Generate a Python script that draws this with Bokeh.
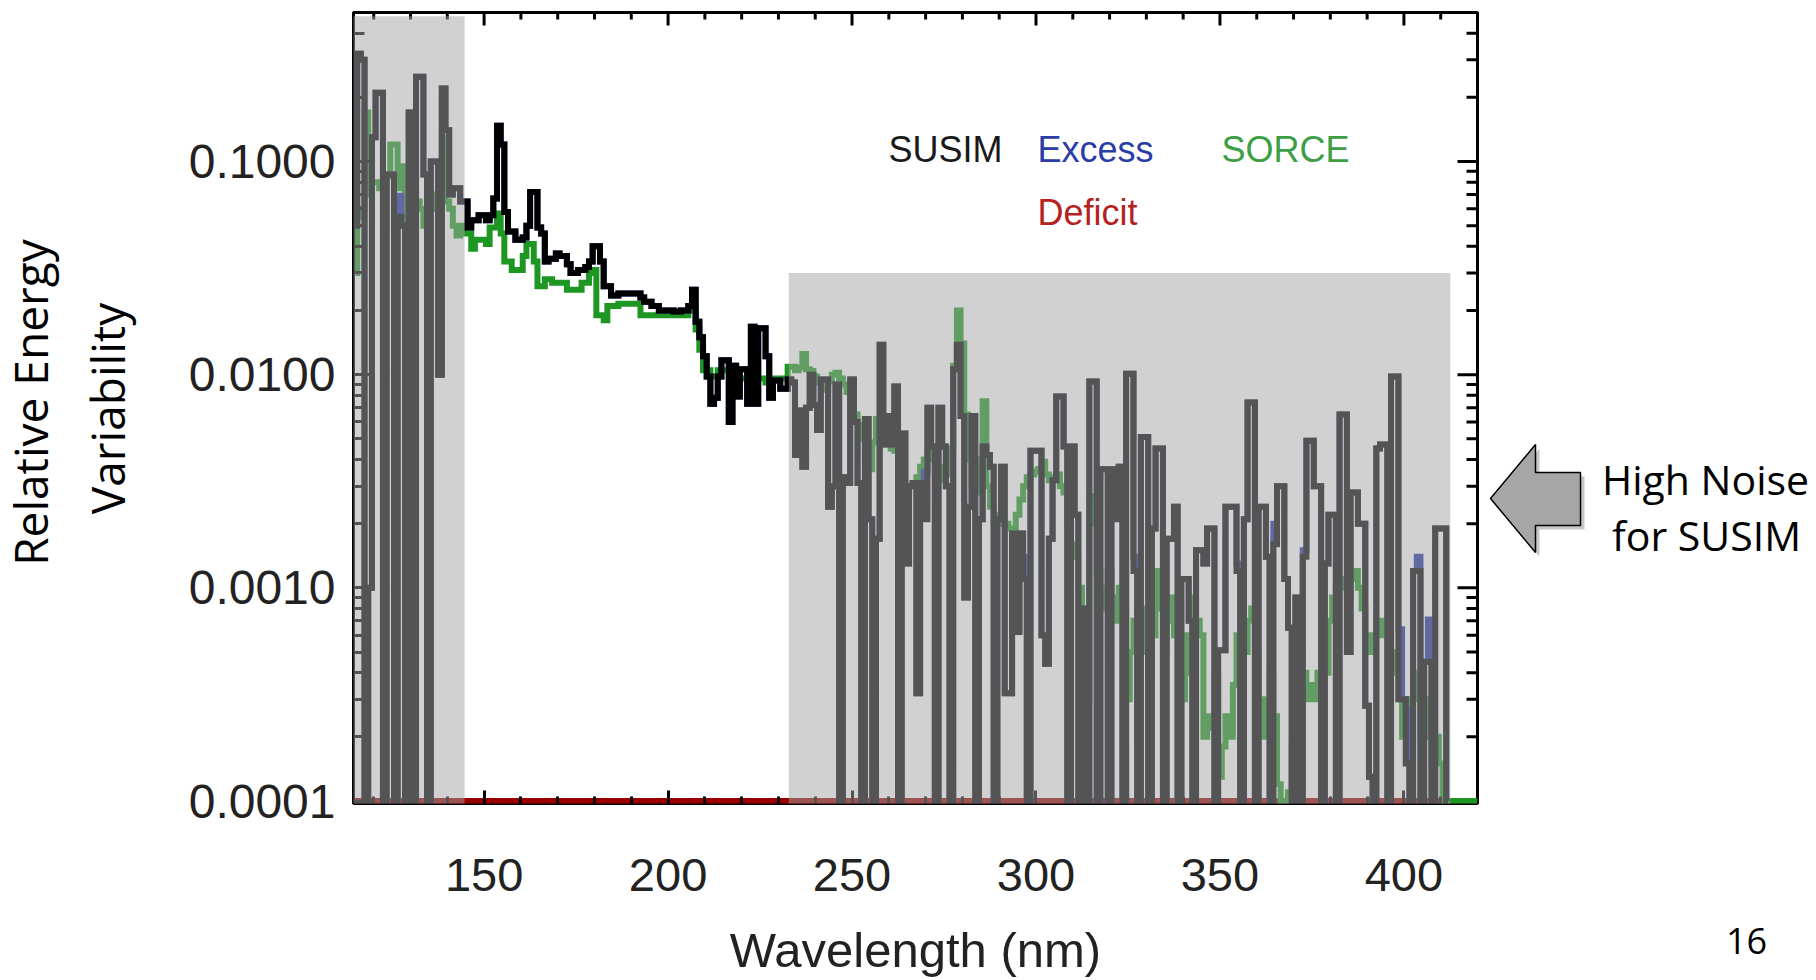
import numpy as np
from bokeh.plotting import figure
from bokeh.layouts import row, column
from bokeh.models import Range1d, FixedTicker, PrintfTickFormatter, BoxAnnotation, Label
from bokeh.core.properties import value
from bokeh.embed import file_html
from bokeh.resources import INLINE

# ---------------- data ----------------
susim_start = 115   # first wavelength bin (nm), 1 nm bins
susim = [
    0.05, 0.32, 0.30, 0.0001, 0.001, 0.13, 0.21, 0.21, 0.0001, 0.087,          # 115-124
    0.087, 0.0001, 0.055, 0.05, 0.0001, 0.17, 0.0001, 0.25, 0.25, 0.087,       # 125-134
    0.0001, 0.10, 0.10, 0.010, 0.22, 0.14, 0.07, 0.075, 0.075, 0.065,          # 135-144
    0.065, 0.049, 0.053, 0.053, 0.056, 0.056, 0.053, 0.056, 0.067, 0.147,      # 145-154
    0.120, 0.058, 0.047, 0.047, 0.043, 0.043, 0.044, 0.050, 0.072, 0.072,      # 155-164
    0.049, 0.046, 0.034, 0.035, 0.035, 0.037, 0.036, 0.036, 0.033, 0.030,      # 165-174
    0.030, 0.031, 0.031, 0.032, 0.034, 0.040, 0.040, 0.034, 0.026, 0.026,      # 175-184
    0.0235, 0.0235, 0.024, 0.024, 0.024, 0.024, 0.024, 0.024, 0.023, 0.022,    # 185-194
    0.022, 0.021, 0.021, 0.020, 0.020, 0.020, 0.020, 0.0198, 0.0198, 0.020,    # 195-204
    0.020, 0.021, 0.025, 0.0177, 0.015, 0.0122, 0.0098, 0.0073, 0.0078, 0.0098,  # 205-214
    0.0117, 0.0117, 0.0060, 0.011, 0.0079, 0.0106, 0.0106, 0.0073, 0.0168, 0.0073,  # 215-224
    0.0165, 0.0165, 0.0122, 0.0078, 0.0094, 0.0094, 0.0086, 0.0086, 0.0095, 0.0092,  # 225-234
    0.0042, 0.0068, 0.0037, 0.0070, 0.0100, 0.0072, 0.0055, 0.0095, 0.0095, 0.0024,  # 235-244
    0.0030, 0.0090, 0.0001, 0.0033, 0.0031, 0.0095, 0.0060, 0.0031, 0.0001, 0.0062,  # 245-254
    0.0021, 0.0001, 0.0017, 0.0138, 0.0047, 0.0064, 0.0047, 0.0088, 0.0001, 0.0053,  # 255-264
    0.0013, 0.0030, 0.0031, 0.00032, 0.0031, 0.0021, 0.0070, 0.0046, 0.0001, 0.0070,  # 265-274
    0.0046, 0.0030, 0.0001, 0.0106, 0.0138, 0.0064, 0.0009, 0.0024, 0.0064, 0.0001,  # 275-284
    0.0021, 0.0046, 0.0042, 0.0037, 0.0001, 0.0021, 0.0037, 0.00032, 0.00032, 0.0018,  # 285-294
    0.00062, 0.0018, 0.0011, 0.0001, 0.0044, 0.0044, 0.0044, 0.0006, 0.00044, 0.0017,  # 295-304
    0.0032, 0.0079, 0.0079, 0.0046, 0.0001, 0.0046, 0.0022, 0.0001, 0.0008, 0.0001,  # 305-314
    0.0093, 0.0093, 0.0001, 0.0036, 0.0036, 0.0001, 0.0036, 0.0021, 0.0037, 0.0001,  # 315-324
    0.0101, 0.0101, 0.0012, 0.0001, 0.0051, 0.0051, 0.0001, 0.0019, 0.0045, 0.0045,  # 325-334
    0.0001, 0.0017, 0.0017, 0.0024, 0.0001, 0.0011, 0.0011, 0.0007, 0.0001, 0.0015,  # 335-344
    0.0015, 0.0013, 0.0019, 0.0019, 0.0001, 0.00051, 0.00051, 0.0024, 0.0024, 0.0024,  # 345-354
    0.0012, 0.0001, 0.0021, 0.0074, 0.0074, 0.0001, 0.0024, 0.0024, 0.0014, 0.0001,  # 355-364
    0.0016, 0.0030, 0.0030, 0.0011, 0.00065, 0.0001, 0.0009, 0.0001, 0.0014, 0.0049,  # 365-374
    0.0049, 0.0030, 0.0030, 0.0001, 0.0013, 0.0022, 0.0022, 0.0001, 0.0065, 0.0065,  # 375-384
    0.0005, 0.0028, 0.0028, 0.0020, 0.0020, 0.00028, 0.00013, 0.0001, 0.0045, 0.0047,  # 385-394
    0.0047, 0.0001, 0.0098, 0.0098, 0.0003, 0.0003, 0.00015, 0.0001, 0.0012, 0.0012,  # 395-404
    0.0001, 0.00045, 0.00045, 0.0001, 0.0019, 0.0019, 0.0019, 0.0001,              # 405-412
]

sorce_start = 115
sorce = [
    0.03, 0.055, 0.06, 0.17, 0.07, 0.08, 0.08, 0.075, 0.08, 0.085,             # 115-124
    0.12, 0.12, 0.075, 0.095, 0.05, 0.055, 0.06, 0.065, 0.06, 0.05,            # 125-134
    0.065, 0.06, 0.07, 0.06, 0.13, 0.065, 0.06, 0.05, 0.045, 0.05,             # 135-144
    0.046, 0.046, 0.039, 0.043, 0.043, 0.043, 0.041, 0.049, 0.049, 0.057,      # 145-154
    0.046, 0.034, 0.034, 0.031, 0.031, 0.031, 0.036, 0.041, 0.041, 0.034,      # 155-164
    0.026, 0.026, 0.028, 0.028, 0.027, 0.027, 0.027, 0.027, 0.025, 0.025,      # 165-174
    0.025, 0.025, 0.027, 0.027, 0.030, 0.031, 0.019, 0.019, 0.018, 0.021,      # 175-184
    0.021, 0.021, 0.0215, 0.0215, 0.0215, 0.0215, 0.0215, 0.0215, 0.019, 0.019,  # 185-194
    0.019, 0.019, 0.019, 0.019, 0.019, 0.019, 0.019, 0.019, 0.019, 0.019,      # 195-204
    0.019, 0.020, 0.020, 0.0163, 0.0131, 0.0105, 0.0105, 0.0098, 0.0098, 0.0105,  # 205-214
    0.0105, 0.0105, 0.0105, 0.0092, 0.0092, 0.0096, 0.0096, 0.0096, 0.0096, 0.0096,  # 215-224
    0.0096, 0.0096, 0.0092, 0.0096, 0.0096, 0.0096, 0.0096, 0.0096, 0.0109, 0.0109,  # 225-234
    0.0105, 0.0108, 0.0125, 0.0106, 0.0104, 0.0098, 0.0092, 0.0090, 0.0085, 0.0093,  # 235-244
    0.0100, 0.0102, 0.0096, 0.0090, 0.0083, 0.0075, 0.0065, 0.0058, 0.0050, 0.0042,  # 245-254
    0.0036, 0.0048, 0.0062, 0.0055, 0.0060, 0.0050, 0.0045, 0.0044, 0.0036, 0.0030,  # 255-264
    0.0029, 0.0030, 0.0031, 0.0033, 0.0037, 0.0040, 0.0043, 0.0040, 0.0036, 0.0037,  # 265-274
    0.0032, 0.0034, 0.0045, 0.0110, 0.0200, 0.0140, 0.0065, 0.0040, 0.0030, 0.0028,  # 275-284
    0.0040, 0.0075, 0.0030, 0.0024, 0.0020, 0.0022, 0.0020, 0.0020, 0.0019, 0.0019,  # 285-294
    0.0022, 0.0026, 0.0030, 0.0033, 0.0034, 0.0035, 0.0036, 0.0039, 0.0034, 0.0032,  # 295-304
    0.0033, 0.0034, 0.0030, 0.0028, 0.0020, 0.0016, 0.0014, 0.0010, 0.0006, 0.0003,  # 305-314
    0.0027, 0.0020, 0.0012, 0.0008, 0.0010, 0.0012, 0.0009, 0.0007, 0.0010, 0.0008,  # 315-324
    0.0003, 0.0005, 0.0007, 0.0002, 0.0005, 0.0008, 0.0004, 0.0006, 0.0012, 0.0008,  # 325-334
    0.0005, 0.0007, 0.0009, 0.0006, 0.0001, 0.0003, 0.0006, 0.0004, 0.0009, 0.0007,  # 335-344
    0.0006, 0.0002, 0.00025, 0.00022, 0.0004, 0.00013, 0.00018, 0.00025, 0.00020, 0.00035,  # 345-354
    0.0006, 0.0006, 0.0005, 0.0007, 0.0008, 0.0005, 0.0003, 0.0002, 0.0003, 0.0004,  # 355-364
    0.00025, 0.00012, 0.0001, 0.0001, 0.00011, 0.00018, 0.0003, 0.0005, 0.0004, 0.0003,  # 365-374
    0.00035, 0.0003, 0.0004, 0.0005, 0.0004, 0.0007, 0.0009, 0.0010, 0.0011, 0.0010,  # 375-384
    0.0009, 0.0011, 0.0012, 0.0010, 0.0008, 0.0006, 0.0005, 0.0006, 0.0007, 0.0006,  # 385-394
    0.0007, 0.0007, 0.0005, 0.0004, 0.0003, 0.0002, 0.0002, 0.0003, 0.0004, 0.0003,  # 395-404
    0.0002, 0.0003, 0.0002, 0.00015, 0.0002, 0.00015, 0.0001, 0.0001, 0.0001, 0.0001,  # 405-414
    0.0001, 0.0001, 0.0001, 0.0001, 0.0001, 0.0001,                              # 415-420
]

# "Excess" bins (where it departs from SUSIM and peeks out in blue)
excess_nm = [127, 270, 297, 322, 327, 355, 365, 373, 399, 401, 404, 407]
excess_val = [0.069, 0.0035, 0.0014, 0.0024, 0.0014, 0.0013, 0.0020, 0.0015,
              0.00064, 0.00027, 0.0014, 0.00071]

# "Deficit" (sits on the floor of the plot)
deficit_nm = [114.5, 412.6]
deficit_val = [0.0001, 0.0001]

# noisy bands for SUSIM
band_x0 = [113.2, 232.8]
band_x1 = [144.7, 412.6]
band_y0 = [0.000094, 0.000094]
band_y1 = [0.48, 0.030]

x_ticks = [150, 200, 250, 300, 350, 400]
x_minor = [120, 130, 140, 160, 170, 180, 190, 210, 220, 230, 240, 260, 270, 280, 290,
           310, 320, 330, 340, 360, 370, 380, 390, 410]
y_ticks = [0.0001, 0.001, 0.01, 0.1]
y_minor = [m * d for d in (0.0001, 0.001, 0.01, 0.1) for m in (2, 3, 4, 5, 6, 7, 8, 9)]

# ---------------- geometry (page pixels) ----------------
W, H = 1816, 980
TOP_H = 915           # height of the row holding the plot; a text strip sits below
LEFT_W = 150          # left text strip
RIGHT_X = 1480        # start of right text strip
FL, FR, FT, FB = 353, 1477, 12, 803
X0, X1 = 114.5, 420.0
Y0, Y1 = 9.735e-5, 0.5


def px_x(px):
    return X0 + (px - FL) / (FR - FL) * (X1 - X0)


def px_y(py):
    l0, l1 = np.log10(Y0), np.log10(Y1)
    return 10 ** (l1 - (py - FT) / (FB - FT) * (l1 - l0))


p = figure(width=RIGHT_X - LEFT_W, height=TOP_H, y_axis_type="log",
           x_range=Range1d(X0, X1), y_range=Range1d(Y0, Y1),
           output_backend="svg", toolbar_location=None,
           min_border_left=FL - LEFT_W, min_border_right=RIGHT_X - FR,
           min_border_top=FT, min_border_bottom=TOP_H - FB, frame_align=False)
p.outline_line_color = "black"
p.outline_line_width = 3
p.background_fill_color = "white"
p.border_fill_color = "white"
p.xgrid.visible = False
p.ygrid.visible = False

TICK_COLOR = "#222222"

xa = p.xaxis[0]
xa.ticker = FixedTicker(ticks=x_ticks, minor_ticks=x_minor)
xa.axis_line_color = None
xa.major_tick_line_width = 3
xa.minor_tick_line_width = 3
xa.major_tick_in = 13
xa.major_tick_out = 0
xa.minor_tick_in = 7
xa.minor_tick_out = 0
xa.major_label_text_font = "Liberation Sans"
xa.major_label_text_font_size = "47px"
xa.major_label_text_color = TICK_COLOR
xa.major_label_standoff = 55

ya = p.yaxis[0]
ya.ticker = FixedTicker(ticks=y_ticks, minor_ticks=y_minor)
ya.formatter = PrintfTickFormatter(format="%.4f")
ya.axis_line_width = 3
ya.axis_line_color = "black"
ya.major_tick_line_width = 3
ya.minor_tick_line_width = 3
ya.major_tick_in = 20
ya.major_tick_out = 0
ya.minor_tick_in = 11
ya.minor_tick_out = 0
ya.major_label_text_font = "Liberation Sans"
ya.major_label_text_font_size = "48px"
ya.major_label_text_color = TICK_COLOR
ya.major_label_standoff = 18

# top / right frame ticks (pointing inward)
top_major_y = px_y(FT + 13)
top_minor_y = px_y(FT + 7)
p.segment(x0=x_ticks, y0=[Y1] * len(x_ticks), x1=x_ticks, y1=[top_major_y] * len(x_ticks),
          line_color="black", line_width=3)
p.segment(x0=x_minor, y0=[Y1] * len(x_minor), x1=x_minor, y1=[top_minor_y] * len(x_minor),
          line_color="black", line_width=3)
r_major_x = px_x(FR - 20)
r_minor_x = px_x(FR - 11)
p.segment(x0=[X1] * len(y_ticks), y0=y_ticks, x1=[r_major_x] * len(y_ticks), y1=y_ticks,
          line_color="black", line_width=3)
p.segment(x0=[X1] * len(y_minor), y0=y_minor, x1=[r_minor_x] * len(y_minor), y1=y_minor,
          line_color="black", line_width=3)

# ---------------- series ----------------
xs_s = np.arange(susim_start, susim_start + len(susim))
xs_g = np.arange(sorce_start, sorce_start + len(sorce))
blue = list(susim)
for nm, v in zip(excess_nm, excess_val):
    blue[nm - susim_start] = v

LW = 6
p.line(deficit_nm, deficit_val, line_color="#990000", line_width=LW)
p.step(xs_g, sorce, mode="center", line_color="#1e9622", line_width=LW, line_join="miter")
p.step(xs_s, blue, mode="center", line_color="#1a2c9e", line_width=LW, line_join="miter")
p.step(xs_s, susim, mode="center", line_color="black", line_width=LW, line_join="miter")

for a, b, c, d in zip(band_x0, band_x1, band_y0, band_y1):
    p.add_layout(BoxAnnotation(left=a, right=b, bottom=c, top=d,
                               fill_color="#a5a5a5", fill_alpha=0.51, line_color=None))


def legend_label(px, py, text, color):
    p.add_layout(Label(x=px_x(px), y=px_y(py), text=text, text_font="Liberation Sans",
                       text_font_size="36px", text_color=color, text_align="left",
                       text_baseline="alphabetic"))


legend_label(888, 149, "SUSIM", "#1a1a1a")
legend_label(1037, 149, "Excess", "#2a3ca8")
legend_label(1221, 149, "SORCE", "#3d9e45")
legend_label(1037, 212, "Deficit", "#b32121")


# ---------------- strips (text outside the plot frame) ----------------
def strip(width, height):
    f = figure(width=width, height=height, x_range=Range1d(0, width), y_range=Range1d(0, height),
               output_backend="svg", toolbar_location=None,
               x_axis_location=None, y_axis_location=None, min_border=0, frame_align=False)
    f.outline_line_color = None
    f.grid.visible = False
    f.background_fill_color = "white"
    f.border_fill_color = "white"
    return f


left = strip(LEFT_W, TOP_H)
left.text(x=[29, 106], y=[TOP_H - 402, TOP_H - 408], text=["Relative Energy", "Variability"],
          angle=np.pi / 2, text_font=value("Open Sans"), text_font_size="46px",
          text_color="black", text_align="center", text_baseline="middle")

right = strip(W - RIGHT_X, TOP_H)
ox = RIGHT_X
arrow_px = [(1490, 498), (1535, 444), (1535, 472), (1580, 472), (1580, 525), (1535, 525), (1535, 552)]
right.patch([a - ox + 4 for a, b in arrow_px], [TOP_H - b - 4 for a, b in arrow_px],
            fill_color="black", fill_alpha=0.22, line_color=None)
right.patch([a - ox for a, b in arrow_px], [TOP_H - b for a, b in arrow_px],
            fill_color="#a6a6a6", line_color="black", line_width=1.5)
right.text(x=[1705 - ox, 1706 - ox], y=[TOP_H - 478, TOP_H - 534], text=["High Noise", "for SUSIM"],
           text_font=value("Open Sans"), text_font_size="41px", text_color="black",
           text_align="center", text_baseline="alphabetic")

bottom = strip(W, H - TOP_H)
bottom.text(x=[915], y=[H - 949], text=["Wavelength (nm)"], text_font=value("Liberation Sans"),
            text_font_size="49px", text_color=TICK_COLOR, text_align="center",
            text_baseline="alphabetic")
bottom.text(x=[1746], y=[H - 940], text=["16"], text_font=value("Open Sans"),
            text_font_size="36px", text_color="black", text_align="center",
            text_baseline="alphabetic")

layout = column(row(left, p, right, spacing=0), bottom, spacing=0)
open("out.html", "w").write(file_html(layout, INLINE))
